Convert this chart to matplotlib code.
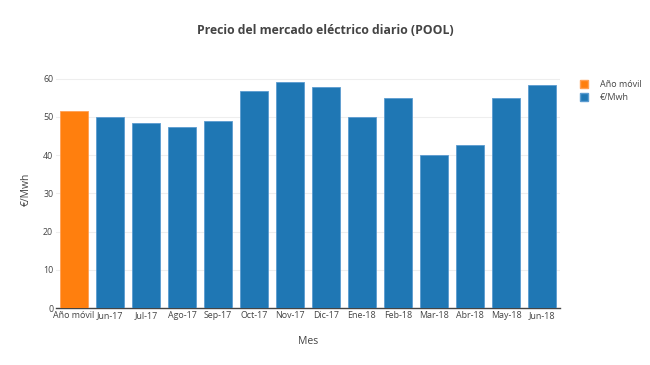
import matplotlib
matplotlib.use("Agg")
import matplotlib.pyplot as plt
from matplotlib.patches import Patch

plt.rcParams['font.family'] = ['Open Sans', 'DejaVu Sans']

categorias = ['Año móvil', 'Jun-17', 'Jul-17', 'Ago-17', 'Sep-17', 'Oct-17', 'Nov-17',
              'Dic-17', 'Ene-18', 'Feb-18', 'Mar-18', 'Abr-18', 'May-18', 'Jun-18']
precios = [51.6, 50.0, 48.5, 47.4, 49.0, 56.7, 59.2, 57.9, 49.9, 54.9, 40.1, 42.6, 54.9, 58.4]
colores = ['#ff7f0e'] + ['#1f77b4'] * (len(categorias) - 1)
bordes = ['#ffa054'] + ['#5b9bd0'] * (len(categorias) - 1)

fig = plt.figure(figsize=(6.5, 3.65), dpi=100)
ax = fig.add_axes([56 / 650, 1 - 308 / 365, 504 / 650, 238 / 365])

x = list(range(len(categorias)))
ax.bar(x, precios, width=0.8, color=colores, edgecolor=bordes, linewidth=0.6, zorder=3)

ax.set_xlim(-0.5, len(categorias) - 0.5)
ax.set_ylim(0, 62.3)
ax.set_yticks([0, 10, 20, 30, 40, 50, 60])
ax.set_xticks(x)
ax.set_xticklabels(categorias)
ax.tick_params(axis='both', length=0, labelsize=6.4, colors='#444444', pad=2)
ax.grid(axis='y', color='#eeeeee', linewidth=0.8, zorder=0)
for s in ['top', 'right', 'left']:
    ax.spines[s].set_visible(False)
ax.spines['bottom'].set_color('#444444')
ax.spines['bottom'].set_linewidth(1)

ax.set_xlabel('Mes', fontsize=7.5, color='#444444', labelpad=12)
ax.set_ylabel('€/Mwh', fontsize=7.5, color='#444444', labelpad=8)
fig.text(325 / 650, 1 - 30 / 365, 'Precio del mercado eléctrico diario (POOL)',
         ha='center', va='center', fontsize=8.8, fontweight='bold', color='#444444')

handles = [Patch(facecolor='#ff7f0e', edgecolor='#ffa054'),
           Patch(facecolor='#1f77b4', edgecolor='#5b9bd0')]
fig.legend(handles, ['Año móvil', '€/Mwh'], loc='upper left',
           bbox_to_anchor=(572 / 650, 1 - 72 / 365), frameon=False,
           fontsize=6.5, labelcolor='#444444', handlelength=0.9, handleheight=0.9,
           handletextpad=1.3, labelspacing=0.45)

fig.savefig('out.png', dpi=100)
